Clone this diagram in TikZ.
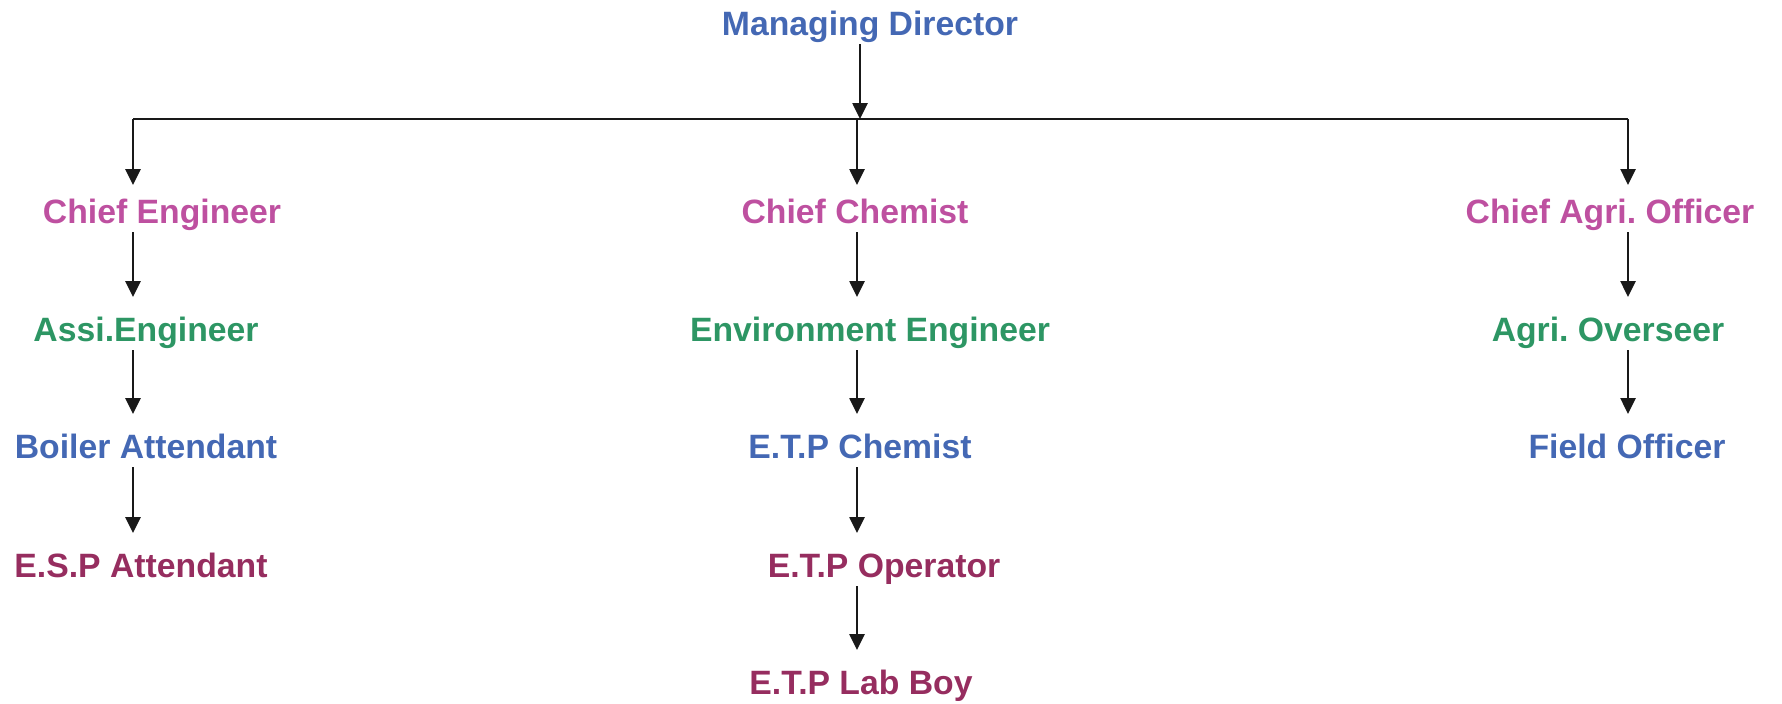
\documentclass[tikz,border=0pt]{standalone}
\usepackage{fontspec}
\setmainfont{Liberation Sans}
\usetikzlibrary{arrows.meta}
\definecolor{mdblue}{RGB}{68,104,180}
\definecolor{chiefpink}{RGB}{190,80,160}
\definecolor{staffgreen}{RGB}{45,150,100}
\definecolor{etpmaroon}{RGB}{150,45,95}
\frenchspacing
\begin{document}
\begin{tikzpicture}
\tikzset{post/.style={anchor=base, inner sep=0pt, outer sep=0pt, text height=0.24cm, text depth=0.09cm, font=\fontsize{9.6}{11}\selectfont\bfseries},
fleche/.style={-{Triangle[length=0.16cm, width=0.15cm]}, line width=0.75pt, black!90, shorten >=0.2cm}}
\useasboundingbox (0,0) rectangle (17.82,-7.03);
\coordinate (bus) at (0,-1.19);
\coordinate (colL) at (1.33,0);
\coordinate (colM) at (8.57,0);
\coordinate (colR) at (16.28,0);
\coordinate (colMD) at (8.60,0);
\node[post, mdblue] (MD) at (8.70,-0.35) {Managing Director};
\node[post, chiefpink] (CE) at (1.62,-2.23) {Chief Engineer};
\node[post, staffgreen] (AE) at (1.46,-3.41) {Assi.Engineer};
\node[post, mdblue] (BA) at (1.46,-4.58) {Boiler Attendant};
\node[post, etpmaroon] (ESP) at (1.41,-5.77) {E.S.P Attendant};
\node[post, chiefpink] (CC) at (8.55,-2.23) {Chief Chemist};
\node[post, staffgreen] (EE) at (8.70,-3.41) {Environment Engineer};
\node[post, mdblue] (ETPC) at (8.60,-4.58) {E.T.P Chemist};
\node[post, etpmaroon] (ETPO) at (8.84,-5.77) {E.T.P Operator};
\node[post, etpmaroon] (ETPL) at (8.61,-6.94) {E.T.P Lab Boy};
\node[post, chiefpink] (CAO) at (16.10,-2.23) {Chief Agri. Officer};
\node[post, staffgreen] (AO) at (16.08,-3.41) {Agri. Overseer};
\node[post, mdblue] (FO) at (16.27,-4.58) {Field Officer};
\draw[line width=0.75pt, black!90] (bus -| colL) -- (bus -| colR);
\draw[fleche, shorten >=0pt] (MD.south -| colMD) -- (bus -| colMD);
\draw[fleche, shorten >=0.14cm] (bus -| colL) -- (CE.north -| colL);
\draw[fleche, shorten >=0.14cm] (bus -| colM) -- (CC.north -| colM);
\draw[fleche, shorten >=0.14cm] (bus -| colR) -- (CAO.north -| colR);
\draw[fleche] (CE.south -| colL) -- (AE.north -| colL);
\draw[fleche] (AE.south -| colL) -- (BA.north -| colL);
\draw[fleche] (BA.south -| colL) -- (ESP.north -| colL);
\draw[fleche] (CC.south -| colM) -- (EE.north -| colM);
\draw[fleche] (EE.south -| colM) -- (ETPC.north -| colM);
\draw[fleche] (ETPC.south -| colM) -- (ETPO.north -| colM);
\draw[fleche] (ETPO.south -| colM) -- (ETPL.north -| colM);
\draw[fleche] (CAO.south -| colR) -- (AO.north -| colR);
\draw[fleche] (AO.south -| colR) -- (FO.north -| colR);
\end{tikzpicture}
\end{document}
